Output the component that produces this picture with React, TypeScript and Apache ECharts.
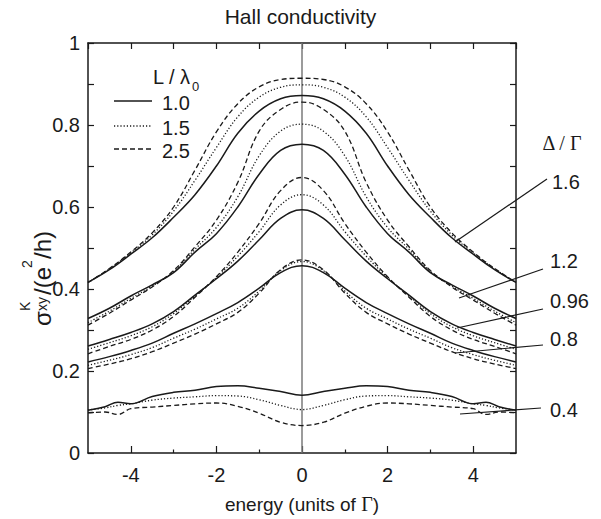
import React, { useEffect, useRef } from "react";
import * as echarts from "echarts";

// half-curves (x >= 0); the curves are symmetric in energy
const xHalf = [0, 0.5, 1, 1.5, 2, 2.5, 3, 3.5, 4, 4.5, 5];
const xHalfLow = [0, 0.5, 1, 1.5, 2, 2.5, 3, 3.5, 4, 4.3, 4.6, 5];

// Delta/Gamma = 1.6
const d16_L10 = [0.872, 0.864, 0.834, 0.78, 0.70, 0.63, 0.575, 0.525, 0.485, 0.447, 0.416];
const d16_L15 = [0.898, 0.892, 0.868, 0.82, 0.745, 0.665, 0.59, 0.532, 0.488, 0.449, 0.416];
const d16_L25 = [0.914, 0.911, 0.893, 0.852, 0.783, 0.69, 0.60, 0.537, 0.49, 0.45, 0.416];
// Delta/Gamma = 1.2
const d12_L10 = [0.753, 0.738, 0.68, 0.60, 0.535, 0.49, 0.44, 0.41, 0.383, 0.353, 0.328];
const d12_L15 = [0.802, 0.785, 0.725, 0.625, 0.55, 0.497, 0.443, 0.407, 0.377, 0.346, 0.318];
const d12_L25 = [0.856, 0.838, 0.785, 0.66, 0.568, 0.503, 0.445, 0.405, 0.373, 0.341, 0.312];
// Delta/Gamma = 0.96
const d096_L10 = [0.593, 0.572, 0.52, 0.468, 0.425, 0.385, 0.345, 0.315, 0.294, 0.277, 0.261];
const d096_L15 = [0.63, 0.605, 0.54, 0.48, 0.428, 0.383, 0.34, 0.308, 0.286, 0.269, 0.253];
const d096_L25 = [0.672, 0.64, 0.56, 0.49, 0.43, 0.38, 0.333, 0.3, 0.277, 0.26, 0.242];
// Delta/Gamma = 0.8
const d08_L10 = [0.457, 0.44, 0.402, 0.367, 0.34, 0.315, 0.292, 0.268, 0.25, 0.235, 0.222];
const d08_L15 = [0.467, 0.445, 0.395, 0.353, 0.327, 0.302, 0.28, 0.257, 0.24, 0.226, 0.214];
const d08_L25 = [0.471, 0.447, 0.39, 0.343, 0.315, 0.29, 0.268, 0.247, 0.23, 0.217, 0.206];
// Delta/Gamma = 0.4 (on xHalfLow)
const d04_L10 = [0.141, 0.150, 0.158, 0.164, 0.162, 0.153, 0.148, 0.138, 0.12, 0.124, 0.113, 0.104];
const d04_L15 = [0.106, 0.116, 0.13, 0.139, 0.14, 0.137, 0.134, 0.129, 0.12, 0.116, 0.11, 0.105];
const d04_L25 = [0.067, 0.075, 0.097, 0.114, 0.122, 0.12, 0.116, 0.112, 0.108, 0.094, 0.1, 0.098];

const xTickLabels = [-4, -2, 0, 2, 4];
const xMinorTicks = [-3, -1, 1, 3];
const legendLabels = ["1.0", "1.5", "2.5"];
const deltaLabels = ["1.6", "1.2", "0.96", "0.8", "0.4"];

function mirror(xs: number[], ys: number[]): number[][] {
  const left: number[][] = [];
  for (let i = xs.length - 1; i >= 1; i--) left.push([-xs[i], ys[i]]);
  const right = xs.map((x, i) => [x, ys[i]]);
  return [...left, ...right];
}

const FONT = "Liberation Sans, Arial, sans-serif";
const SERIF = "Liberation Serif, Times New Roman, serif";
const INK = "#1a1a1a";

const dashStyles: any[] = ["solid", [1.2, 2], [5, 3]];

export default function App() {
  const ref = useRef<HTMLDivElement>(null);
  useEffect(() => {
    document.body.style.margin = "0";
    if (!ref.current) return;
    const chart = echarts.init(ref.current, null, { renderer: "svg" });

    const groups = [
      { d: "1.6", xs: xHalf, ys: [d16_L10, d16_L15, d16_L25] },
      { d: "1.2", xs: xHalf, ys: [d12_L10, d12_L15, d12_L25] },
      { d: "0.96", xs: xHalf, ys: [d096_L10, d096_L15, d096_L25] },
      { d: "0.8", xs: xHalf, ys: [d08_L10, d08_L15, d08_L25] },
      { d: "0.4", xs: xHalfLow, ys: [d04_L10, d04_L15, d04_L25] },
    ];

    const series: any[] = [];
    groups.forEach((g) => {
      g.ys.forEach((ys, k) => {
        series.push({
          type: "line",
          name: `Δ/Γ=${g.d}, L/λ0=${legendLabels[k]}`,
          data: mirror(g.xs, ys),
          smooth: 0.4,
          showSymbol: false,
          symbol: "none",
          lineStyle: { color: INK, width: k === 0 ? 1.5 : 1.3, type: dashStyles[k], cap: "butt" },
          z: 3,
        });
      });
    });
    series[0].markLine = {
      silent: true,
      symbol: ["none", "none"],
      label: { show: false },
      lineStyle: { color: "#7a7a7a", width: 1.5, type: "solid" },
      data: [{ xAxis: 0 }],
      z: 1,
    };

    const axisLine = { show: true, onZero: false, lineStyle: { color: INK, width: 1.5 } };
    const tickStyle = { color: INK, width: 1.2 };

    const legendY = [101, 126, 149];
    const graphic: any[] = [
      // legend
      { type: "text", x: 153, y: 77, style: { text: "L / λ", font: `20px ${FONT}`, fill: INK, textVerticalAlign: "middle" } },
      { type: "text", x: 192, y: 86, style: { text: "0", font: `13px ${FONT}`, fill: INK, textVerticalAlign: "middle" } },
      ...legendY.map((y, k) => ({
        type: "line",
        shape: { x1: 114, y1: y, x2: 152, y2: y },
        style: { stroke: INK, lineWidth: k === 0 ? 1.5 : 1.3, lineDash: k === 0 ? null : dashStyles[k] },
      })),
      ...legendY.map((y, k) => ({
        type: "text",
        x: 162,
        y: y + 1.5,
        style: { text: legendLabels[k], font: `20px ${FONT}`, fill: INK, textVerticalAlign: "middle" },
      })),
      // Delta / Gamma labels
      { type: "text", x: 562, y: 143, style: { text: "Δ / Γ", font: `20px ${SERIF}`, fill: INK, textAlign: "center", textVerticalAlign: "middle" } },
      ...[
        [552, 182],
        [550, 261],
        [550, 301],
        [550, 339],
        [550, 410],
      ].map((p, i) => ({
        type: "text",
        x: p[0],
        y: p[1],
        style: { text: deltaLabels[i], font: `20px ${FONT}`, fill: INK, textVerticalAlign: "middle" },
      })),
      ...[
        [547, 179, 455, 242],
        [543, 269, 459, 298],
        [543, 309, 457, 328],
        [543, 345, 455, 353],
        [541, 408, 460, 414],
      ].map((l) => ({
        type: "line",
        shape: { x1: l[0], y1: l[1], x2: l[2], y2: l[3] },
        style: { stroke: INK, lineWidth: 1.2 },
      })),
      // y axis title
      {
        type: "group",
        x: 30,
        y: 262,
        rotation: Math.PI / 2,
        children: [
          { type: "text", x: -64, y: 0, style: { text: "σ", font: `24px ${FONT}`, fill: INK, textVerticalAlign: "alphabetic" } },
          { type: "text", x: -49, y: -12, style: { text: "K", font: `14px ${FONT}`, fill: INK, textVerticalAlign: "alphabetic" } },
          { type: "text", x: -49, y: 5, style: { text: "xy", font: `14px ${FONT}`, fill: INK, textVerticalAlign: "alphabetic" } },
          { type: "text", x: -33, y: 0, style: { text: "/(e", font: `24px ${FONT}`, fill: INK, textVerticalAlign: "alphabetic" } },
          { type: "text", x: -6, y: -10, style: { text: "2", font: `14px ${FONT}`, fill: INK, textVerticalAlign: "alphabetic" } },
          { type: "text", x: 3, y: 0, style: { text: "/h)", font: `24px ${FONT}`, fill: INK, textVerticalAlign: "alphabetic" } },
        ],
      },
    ];

    chart.setOption({
      animation: false,
      backgroundColor: "#ffffff",
      title: {
        text: "Hall conductivity",
        left: "center",
        top: 1,
        textStyle: { fontFamily: FONT, fontSize: 21, fontWeight: "normal", color: INK },
      },
      grid: { left: 88, right: 85, top: 43, bottom: 51, containLabel: false },
      xAxis: [
        {
          type: "value",
          min: -5,
          max: 5,
          interval: 1,
          position: "bottom",
          axisLine,
          axisTick: { show: true, inside: true, length: 7, customValues: xTickLabels, lineStyle: tickStyle },
          axisLabel: { customValues: xTickLabels, fontFamily: FONT, fontSize: 20, color: INK, margin: 12 },
          splitLine: { show: false },
          name: "{a|energy (units of }{b|Γ}{a|)}",
          nameLocation: "middle",
          nameGap: 41,
          nameTextStyle: {
            rich: {
              a: { fontFamily: FONT, fontSize: 19, color: INK },
              b: { fontFamily: SERIF, fontSize: 20, color: INK },
            },
          },
        },
        {
          type: "value",
          min: -5,
          max: 5,
          interval: 1,
          position: "bottom",
          axisLine: { show: false },
          axisTick: { show: true, inside: true, length: 3.5, customValues: xMinorTicks, lineStyle: tickStyle },
          axisLabel: { show: false },
          splitLine: { show: false },
        },
        {
          type: "value",
          min: -5,
          max: 5,
          interval: 1,
          position: "top",
          axisLine,
          axisTick: { show: true, inside: true, length: 6, lineStyle: tickStyle },
          axisLabel: { show: false },
          splitLine: { show: false },
        },
      ],
      yAxis: [
        {
          type: "value",
          min: 0,
          max: 1,
          interval: 0.1,
          position: "left",
          axisLine,
          axisTick: { show: true, inside: true, length: 6, lineStyle: tickStyle },
          axisLabel: {
            fontFamily: FONT,
            fontSize: 20,
            color: INK,
            margin: 8,
            formatter: (v: number) => {
              const t = Math.round(v * 10);
              if (t % 2 !== 0) return "";
              if (t === 0) return "0";
              if (t === 10) return "1";
              return (t / 10).toFixed(1);
            },
          },
          splitLine: { show: false },
        },
        {
          type: "value",
          min: 0,
          max: 1,
          interval: 0.1,
          position: "right",
          axisLine,
          axisTick: { show: true, inside: true, length: 6, lineStyle: tickStyle },
          axisLabel: { show: false },
          splitLine: { show: false },
        },
      ],
      series,
      graphic,
    });
    return () => chart.dispose();
  }, []);
  return (
    <div
      ref={ref}
      style={{ position: "absolute", left: 0, top: 0, width: 601, height: 519, background: "#fff" }}
    />
  );
}
